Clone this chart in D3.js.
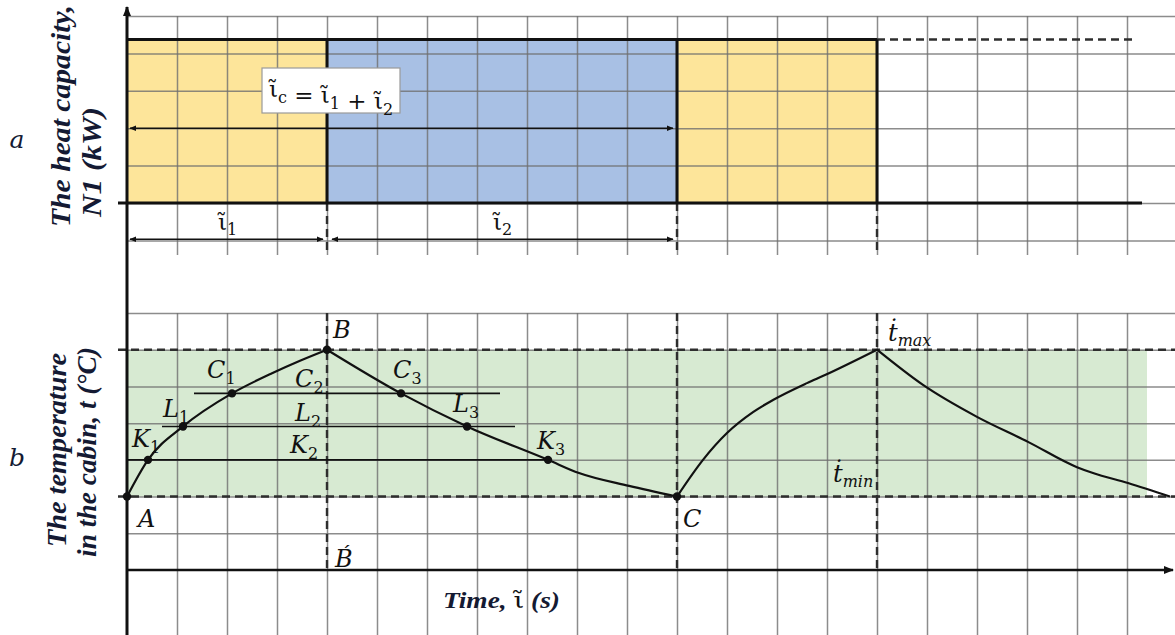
<!DOCTYPE html>
<html>
<head>
<meta charset="utf-8">
<script src="https://cdn.jsdelivr.net/npm/d3@7"></script>
<style>
  body { margin: 0; background: #fff; }
  svg { display: block; }
  .grid line { stroke: #6f6f6f; stroke-width: 1.5; stroke-opacity: 0.8; }
  .grid .domain { display: none; }
  .lbl { font-family: "DejaVu Serif", serif; font-style: italic; font-size: 24px; fill: #111; }
  .title { font-family: "Liberation Serif", serif; font-style: italic; font-weight: bold; fill: #141a33; }
</style>
</head>
<body>
<svg id="chart" width="1175" height="635"></svg>
<script>
// ---- data (time in grid cells, levels in grid rows) ----
const gridCols = d3.range(1, 21);
const powerRows = d3.range(-1, 6);
const tempRows = d3.range(1, 8);

// heater on / off phases (upper diagram)
const phases = [
  {from: 0, to: 4, on: true},
  {from: 4, to: 11, on: false},
  {from: 11, to: 15, on: true}
];
const powerLevel = 4.37;
const powerDashedTo = 20.2;
const powerBaseTo = 20.3;
const phaseMarks = [4, 11, 15];

// dimension arrows
const spans = [
  {name: "c", from: 0, to: 11, level: 2},
  {name: "1", from: 0, to: 4, level: -0.97},
  {name: "2", from: 4, to: 11, level: -0.97}
];

// cabin temperature (lower diagram)
const tMin = 2, tMax = 6;
const bandTo = 20.4;
const heating1 = [[0, 2], [0.42, 3.0], [1.12, 3.91], [2.1, 4.81], [2.9, 5.36], [3.46, 5.7], [4, 6]];
const cooling1 = [[4, 6], [5.48, 4.81], [6.8, 3.91], [8.42, 3.0], [9.04, 2.64], [10.04, 2.29], [11, 2]];
const heating2 = [[11, 2], [11.52, 3.0], [12.0, 3.73], [12.52, 4.3], [12.92, 4.63], [13.6, 5.09], [13.96, 5.31], [15, 6]];
const cooling2 = [[15, 6], [15.92, 5.04], [17, 4.17], [18.02, 3.49], [19, 2.8], [19.32, 2.64], [20.02, 2.37], [20.86, 2.0]];

// iso-temperature lines
const levels = [
  {name: "C", T: 4.81, from: 1.34, to: 7.46},
  {name: "L", T: 3.91, from: 0.7, to: 7.76},
  {name: "K", T: 3.0, from: 0, to: 8.4}
];

// marked points
const points = [
  {base: "A", sub: "", t: 0, T: 2},
  {base: "K", sub: "1", t: 0.42, T: 3.0},
  {base: "L", sub: "1", t: 1.12, T: 3.91},
  {base: "C", sub: "1", t: 2.1, T: 4.81},
  {base: "B", sub: "", t: 4, T: 6},
  {base: "C", sub: "3", t: 5.48, T: 4.81},
  {base: "L", sub: "3", t: 6.8, T: 3.91},
  {base: "K", sub: "3", t: 8.42, T: 3.0},
  {base: "C", sub: "", t: 11, T: 2}
];

// labels on the B line and the extremes
const sideLabels = [
  {base: "C", sub: "2", t: 4, T: 4.81},
  {base: "L", sub: "2", t: 4, T: 3.91},
  {base: "K", sub: "2", t: 4, T: 3.0},
  {base: "B\u0301", sub: "", t: 4, T: 0},
  {base: "t\u0307", sub: "max", t: 15, T: tMax},
  {base: "t\u0307", sub: "min", t: 15, T: tMin}
];

// ---- drawing ----
const W = 1175, H = 635;
const svg = d3.select("#chart");

const x = d3.scaleLinear().domain([0, 20]).range([127, 1127]);
const yP = d3.scaleLinear().domain([0, 5]).range([203, 16]);
const yT = d3.scaleLinear().domain([0, 7]).range([570, 313]);
const topGridBottom = 255;

const colors = {on: "#fde59a", off: "#a8c0e4", band: "#d7ead2"};

const defs = svg.append("defs");
defs.append("marker").attr("id", "dim")
    .attr("viewBox", "0 0 10 10").attr("refX", 9).attr("refY", 5)
    .attr("markerWidth", 7).attr("markerHeight", 7)
    .attr("markerUnits", "userSpaceOnUse")
    .attr("orient", "auto-start-reverse")
  .append("path").attr("d", "M0,1 L10,5 L0,9 z").attr("fill", "#111");
defs.append("marker").attr("id", "axisHead")
    .attr("viewBox", "0 0 10 10").attr("refX", 9).attr("refY", 5)
    .attr("markerWidth", 10).attr("markerHeight", 10)
    .attr("markerUnits", "userSpaceOnUse")
    .attr("orient", "auto")
  .append("path").attr("d", "M0,1 L10,5 L0,9 z").attr("fill", "#111");

// fills
svg.append("g").selectAll("rect").data(phases).join("rect")
    .attr("x", d => x(d.from)).attr("width", d => x(d.to) - x(d.from))
    .attr("y", yP(powerLevel)).attr("height", yP(0) - yP(powerLevel))
    .attr("fill", d => d.on ? colors.on : colors.off);

svg.append("rect")
    .attr("x", x(0)).attr("width", x(bandTo) - x(0))
    .attr("y", yT(tMax)).attr("height", yT(tMin) - yT(tMax))
    .attr("fill", colors.band);

// grids from axes
svg.append("g").attr("class", "grid").attr("transform", `translate(0,${topGridBottom})`)
    .call(d3.axisBottom(x).tickValues(gridCols).tickSize(-(topGridBottom - yP(5))).tickFormat(""));
svg.append("g").attr("class", "grid").attr("transform", `translate(${x(0)},0)`)
    .call(d3.axisLeft(yP).tickValues(powerRows).tickSize(-(W - x(0))).tickFormat(""));
svg.append("g").attr("class", "grid").attr("transform", `translate(0,${H})`)
    .call(d3.axisBottom(x).tickValues(gridCols).tickSize(-(H - yT(7))).tickFormat(""));
svg.append("g").attr("class", "grid").attr("transform", `translate(${x(0)},0)`)
    .call(d3.axisLeft(yT).tickValues(tempRows).tickSize(-(W - x(0))).tickFormat(""));

// dashed guides
const dash = svg.append("g").attr("stroke", "#2e2e2e").attr("stroke-width", 2.4)
    .attr("stroke-dasharray", "8,5").attr("fill", "none");
dash.selectAll(".vTop").data(phaseMarks).join("line")
    .attr("x1", d => x(d)).attr("x2", d => x(d))
    .attr("y1", yP(0)).attr("y2", topGridBottom);
dash.selectAll(".vBot").data(phaseMarks).join("line")
    .attr("x1", d => x(d)).attr("x2", d => x(d))
    .attr("y1", yT(7)).attr("y2", yT(0));
dash.selectAll(".hT").data([tMin, tMax]).join("line")
    .attr("x1", x(0) - 9).attr("x2", W)
    .attr("y1", d => yT(d)).attr("y2", d => yT(d));
dash.append("line")
    .attr("x1", x(15)).attr("x2", x(powerDashedTo))
    .attr("y1", yP(powerLevel)).attr("y2", yP(powerLevel));

// heater outline
const solid = svg.append("g").attr("stroke", "#111").attr("stroke-width", 3).attr("fill", "none");
solid.append("line").attr("x1", x(0)).attr("x2", x(15))
    .attr("y1", yP(powerLevel)).attr("y2", yP(powerLevel));
solid.append("line").attr("x1", x(0) - 9).attr("x2", x(powerBaseTo))
    .attr("y1", yP(0)).attr("y2", yP(0));
solid.selectAll(".mark").data(phaseMarks).join("line")
    .attr("x1", d => x(d)).attr("x2", d => x(d))
    .attr("y1", yP(powerLevel)).attr("y2", yP(0));

// dimension arrows
svg.append("g").selectAll("line").data(spans).join("line")
    .attr("x1", d => x(d.from) + (d.from === 0 ? 3 : 5))
    .attr("x2", d => x(d.to) - 4)
    .attr("y1", d => yP(d.level)).attr("y2", d => yP(d.level))
    .attr("stroke", "#111").attr("stroke-width", 1.6)
    .attr("marker-start", "url(#dim)").attr("marker-end", "url(#dim)");

// box with the cycle formula
const box = svg.append("g");
box.append("rect").attr("x", 262).attr("y", 68).attr("width", 138).attr("height", 45)
    .attr("fill", "#fff").attr("stroke", "#9a9a9a").attr("stroke-width", 1.2);
const ft = box.append("text").attr("x", 331).attr("y", 97).attr("text-anchor", "middle")
    .attr("font-family", "DejaVu Serif, serif").attr("font-size", 23).attr("fill", "#111");
[["\u03b9\u0303", "c"], [" = \u03b9\u0303", "1"], [" + \u03b9\u0303", "2"]].forEach(([m, s]) => {
  ft.append("tspan").text(m);
  ft.append("tspan").attr("dy", 6).attr("font-size", 16).text(s);
  ft.append("tspan").attr("dy", -6).text("");
});

// span names under the diagram
spans.filter(d => d.name !== "c").forEach(d => {
  const t = svg.append("text").attr("x", (x(d.from) + x(d.to)) / 2 - 9).attr("y", yP(d.level) - 9)
      .attr("font-family", "DejaVu Serif, serif").attr("font-size", 23).attr("fill", "#111");
  t.append("tspan").text("\u03b9\u0303");
  t.append("tspan").attr("dy", 5).attr("font-size", 16).text(d.name);
});

// temperature curves
const line = d3.line().x(d => x(d[0])).y(d => yT(d[1])).curve(d3.curveMonotoneX);
svg.append("g").selectAll("path").data([heating1, cooling1, heating2, cooling2]).join("path")
    .attr("d", line).attr("fill", "none").attr("stroke", "#111").attr("stroke-width", 2.2);

svg.append("g").selectAll("line").data(levels).join("line")
    .attr("x1", d => x(d.from)).attr("x2", d => x(d.to))
    .attr("y1", d => yT(d.T)).attr("y2", d => yT(d.T))
    .attr("stroke", "#111").attr("stroke-width", 1.6);

svg.append("g").selectAll("circle").data(points).join("circle")
    .attr("cx", d => x(d.t)).attr("cy", d => yT(d.T)).attr("r", 4.2).attr("fill", "#111");

// axes
svg.append("line").attr("x1", x(0)).attr("x2", x(0)).attr("y1", H).attr("y2", 7)
    .attr("stroke", "#111").attr("stroke-width", 3).attr("marker-end", "url(#axisHead)");
svg.append("line").attr("x1", x(0)).attr("x2", 1173).attr("y1", yT(0)).attr("y2", yT(0))
    .attr("stroke", "#111").attr("stroke-width", 2.6).attr("marker-end", "url(#axisHead)");

// point labels
const offset = {
  "A": [11, 30], "K1": [-16, -13], "L1": [-20, -9], "C1": [-25, -15], "B": [6, -12],
  "C3": [-8, -15], "L3": [-14, -14], "K3": [-11, -11], "C": [6, 30],
  "C2": [-32, -6], "L2": [-32, -5], "K2": [-37, -7],
  "B\u0301": [8, -3], "t\u0307max": [11, -9], "t\u0307min": [-44, -15]
};
function addLabel(d) {
  const o = offset[d.base + d.sub] || [0, 0];
  const t = svg.append("text").attr("class", "lbl")
      .attr("x", x(d.t) + o[0]).attr("y", yT(d.T) + o[1]);
  t.append("tspan").text(d.base);
  if (d.sub) {
    const digit = /\d/.test(d.sub);
    t.append("tspan").attr("dy", digit ? 6 : 5)
        .attr("font-size", 16).attr("font-style", digit ? "normal" : "italic").text(d.sub);
  }
}
points.forEach(addLabel);
sideLabels.forEach(addLabel);

// titles
const titles = [
  {text: "The heat capacity,", x: 70, y: 116, len: 222},
  {text: "N1 (kW)", x: 101, y: 162, len: 110},
  {text: "The temperature", x: 66, y: 450, len: 194},
  {text: "in the cabin, t (\u00b0C)", x: 96, y: 452, len: 210}
];
svg.append("g").selectAll("text").data(titles).join("text")
    .attr("class", "title")
    .attr("transform", d => `translate(${d.x},${d.y}) rotate(-90)`)
    .attr("text-anchor", "middle").attr("font-size", 27)
    .attr("textLength", d => d.len).attr("lengthAdjust", "spacingAndGlyphs")
    .text(d => d.text);

const timeLbl = svg.append("text").attr("class", "title").attr("x", 443).attr("y", 608)
    .attr("font-size", 23).attr("textLength", 117).attr("lengthAdjust", "spacingAndGlyphs");
timeLbl.append("tspan").text("Time, ");
timeLbl.append("tspan").attr("font-family", "DejaVu Serif, serif").attr("font-style", "normal")
    .attr("font-weight", "normal").attr("fill", "#111").text("\u03b9\u0303");
timeLbl.append("tspan").text(" (s)");

svg.selectAll(".panel").data([["a", 148], ["b", 466]]).join("text")
    .attr("x", 17).attr("y", d => d[1]).attr("text-anchor", "middle")
    .attr("font-family", "DejaVu Serif, serif").attr("font-style", "italic")
    .attr("font-size", 25).attr("fill", "#141a33").text(d => d[0]);
</script>
</body>
</html>
